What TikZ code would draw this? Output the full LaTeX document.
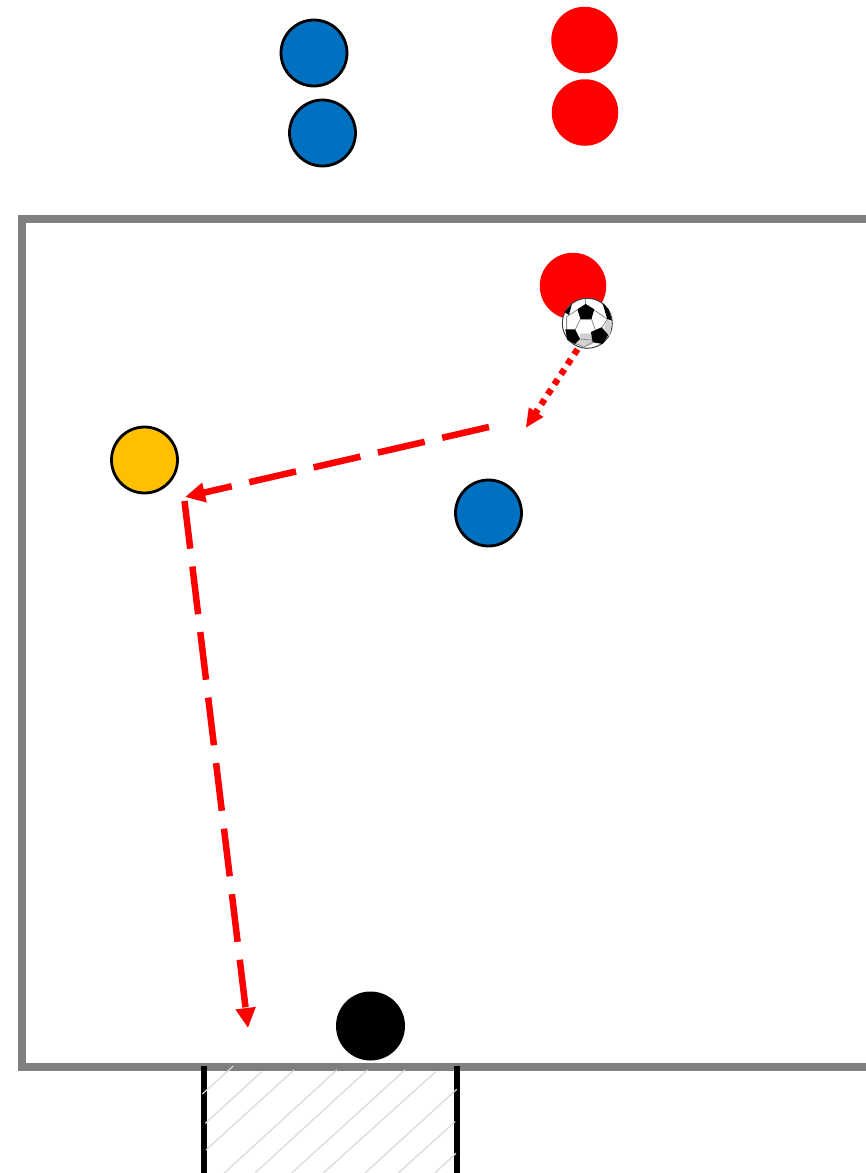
\documentclass[tikz,border=0pt]{standalone}
\usetikzlibrary{arrows.meta}
\definecolor{pblue}{HTML}{0070C0}
\definecolor{pyellow}{HTML}{FFC000}
\definecolor{pgrayline}{HTML}{7F7F7F}
\definecolor{phatch}{HTML}{D9D9D9}
\tikzset{
  disc/.style={circle,inner sep=0pt,outer sep=0pt,minimum size=#1},
  blueplayer/.style={disc=66pt,fill=pblue,draw=black,line width=2.8pt},
  yellowplayer/.style={disc=66pt,fill=pyellow,draw=black,line width=2.8pt},
  redplayer/.style={disc=66.5pt,fill=red},
  keeper/.style={disc=69pt,fill=black},
  pitch/.style={draw=pgrayline,line width=8pt,line join=miter},
  post/.style={draw=black,line width=6pt},
  hatchline/.style={draw=phatch,line width=1.2pt},
  runarrow/.style={draw=red,line width=6.5pt,dash pattern=on 48pt off 18pt,
    -{Triangle[length=20pt,width=19pt,fill=red]}},
  passarrow/.style={draw=red,line width=6.5pt,dash pattern=on 6pt off 6pt,
    -{Triangle[length=19pt,width=16pt,fill=red]}},
  ballseam/.style={draw=black!45,line width=.8pt},
  ballpatch/.style={fill=black},
  ballshade/.style={fill=black!18},
}
\begin{document}
\begin{tikzpicture}[x=1pt,y=-1pt]
\clip (0,0) rectangle (866,1173);
\fill[white] (0,0) rectangle (866,1173);
% pitch
\draw[pitch] (880,219) -- (21.5,219) -- (21.5,1067) -- (880,1067);
% goal
\draw[post] (204,1066) -- (204,1185);
\draw[post] (457,1066) -- (457,1185);
\draw[hatchline] (202.3,1094) -- (233.3,1066);
\draw[hatchline] (205.3,1123.3) -- (261.7,1071.7);
\draw[hatchline] (206,1150) -- (294,1070);
\draw[hatchline] (224.3,1173) -- (336.7,1070);
\draw[hatchline] (255,1173) -- (367.3,1070);
\draw[hatchline] (291.7,1173) -- (405,1070);
\draw[hatchline] (323.3,1173) -- (435.7,1071.7);
\draw[hatchline] (365,1173) -- (456.7,1089.3);
\draw[hatchline] (398.3,1173) -- (455,1121.7);
\draw[hatchline] (435,1173) -- (456,1153.3);
% players
\node[blueplayer] (b1) at (314,53) {};
\node[blueplayer] (b2) at (322.5,133) {};
\node[redplayer] (r1) at (584.5,40) {};
\node[redplayer] (r2) at (585,112.5) {};
\node[redplayer] (r3) at (573,286) {};
\node[yellowplayer] (y1) at (144.5,460) {};
\node[blueplayer] (b3) at (488.5,513) {};
\node[keeper] (k1) at (370.5,1026) {};
% ball
\node[disc=50pt,fill=white,draw=black!75,line width=1pt] (ball) at (587.3,323.3) {};
\begin{scope}[shift={(ball.center)},x=.3333pt,y=-.3333pt]
  \fill[ballshade] (-24,47) -- (13,50) -- (18,62) -- (-10,72) -- (-37,60) -- cycle;
  \fill[ballshade] (60,-13) -- (73,-2) -- (68,38) -- (60,35) -- (50,15) -- cycle;
  \fill[ballshade] (-20,30) -- (20,30) -- (18,48) -- (-24,46) -- cycle;
  \draw[ballseam] (-20,-14) -- (12,-14) -- (25,22) -- (13,50) -- (-24,47) -- (-37,20) -- cycle;
  \draw[ballseam] (-30,-40) -- (-62,-20) -- (-62,20);
  \draw[ballseam] (20,-40) -- (60,-13) -- (43,15);
  \draw[ballseam] (-5,-55) -- (-5,-73);
  \draw[ballseam] (-37,60) -- (-10,72) -- (18,55);
  \fill[ballpatch] (-30,-42) -- (-5,-58) -- (21,-42) -- (12,-12) -- (-20,-12) -- cycle;
  \fill[ballpatch] (11,26) -- (43,12) -- (63,35) -- (46,62) -- (16,57) -- cycle;
  \fill[ballpatch] (-66,18) -- (-37,18) -- (-22,47) -- (-37,62) -- (-60,50) -- cycle;
  \fill[ballpatch] (45,-62) -- (64,-42) -- (74,-8) -- (60,-13) -- cycle;
  \fill[ballpatch] (-68,-33) -- (-46,-58) -- (-55,-25) -- cycle;
\end{scope}
% connectors
\coordinate (passstart) at (577.5,349.3);
\coordinate (passend) at (525.7,428);
\coordinate (run1start) at (489,427);
\coordinate (run1end) at (185,497);
\coordinate (run2start) at (184.5,501);
\coordinate (run2end) at (248,1028);
\draw[passarrow] (passstart) -- (passend);
\draw[runarrow] (run1start) -- (run1end);
\draw[runarrow] (run2start) -- (run2end);
\end{tikzpicture}
\end{document}
